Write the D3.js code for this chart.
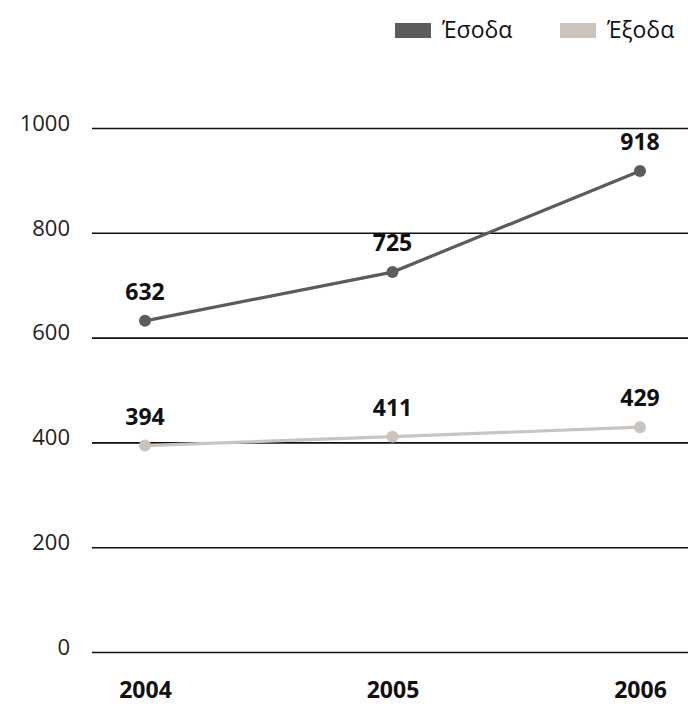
<!DOCTYPE html>
<html><head><meta charset="utf-8">
<script src="https://cdn.jsdelivr.net/npm/d3@7"></script>
<style>body{margin:0;background:#fff}svg{display:block}</style>
</head><body>
<script>
const years = ["2004", "2005", "2006"];
const income = [632, 725, 918];
const expenses = [394, 411, 429];
const yTicks = [0, 200, 400, 600, 800, 1000];
const seriesNames = ["Έσοδα", "Έξοδα"];
const colors = ["#5b5c5e", "#cbc3bd"];

const W = 688, H = 704;
const svg = d3.select("body").append("svg").attr("width", W).attr("height", H);
const font = "'Open Sans', 'DejaVu Sans', sans-serif";

const x = d3.scalePoint().domain(years).range([145, 640]);
const y = d3.scaleLinear().domain([0, 1000]).range([652, 128]);

// grid
const yAxis = d3.axisLeft(y).tickValues(yTicks).tickFormat(d3.format("d")).tickSize(0).tickPadding(0);
const ga = svg.append("g").call(yAxis);
ga.select(".domain").remove();
ga.selectAll(".tick line").remove();
ga.selectAll(".tick").each(function(d){
  const g = d3.select(this);
  g.append("line").attr("x1", 92).attr("x2", 688).attr("stroke", "#111").attr("stroke-width", 1.6);
  g.select("text").attr("x", 70).attr("dy", "0.1em").attr("text-anchor","end")
   .style("font-family", font).style("font-size", "22px").attr("fill", "#222");
});

// x axis labels
const xAxis = d3.axisBottom(x).tickSize(0).tickPadding(0);
const gx = svg.append("g").attr("transform", "translate(0,690)").call(xAxis);
gx.select(".domain").remove();
gx.selectAll("text").attr("dy", "0.35em").style("font-family", font).style("font-size", "23px")
  .style("font-weight", "bold").attr("fill", "#111");

const data = [income, expenses];
const line = d3.line().x((d,i)=>x(years[i])).y(d=>y(d));
data.forEach((vals, si) => {
  svg.append("path").datum(vals).attr("d", line).attr("fill","none")
    .attr("stroke", colors[si]).attr("stroke-width", 3.2);
  svg.selectAll(null).data(vals).enter().append("circle")
    .attr("cx", (d,i)=>x(years[i])).attr("cy", d=>y(d)).attr("r", 6).attr("fill", colors[si]);
  svg.selectAll(null).data(vals).enter().append("text")
    .attr("x", (d,i)=>x(years[i])).attr("y", d=>y(d) - 21)
    .attr("text-anchor","middle").style("font-family", font).style("font-size","23px")
    .style("font-weight","bold").attr("fill","#111").text(d=>d);
});

// legend
const legX = [395, 560];
seriesNames.forEach((n, i) => {
  svg.append("rect").attr("x", legX[i]).attr("y", 23).attr("width", 36).attr("height", 15).attr("fill", colors[i]);
  svg.append("text").attr("x", legX[i] + 47).attr("y", 38).style("font-family", font)
    .style("font-size", "23px").attr("fill", "#111").text(n);
});
</script>
</body></html>
